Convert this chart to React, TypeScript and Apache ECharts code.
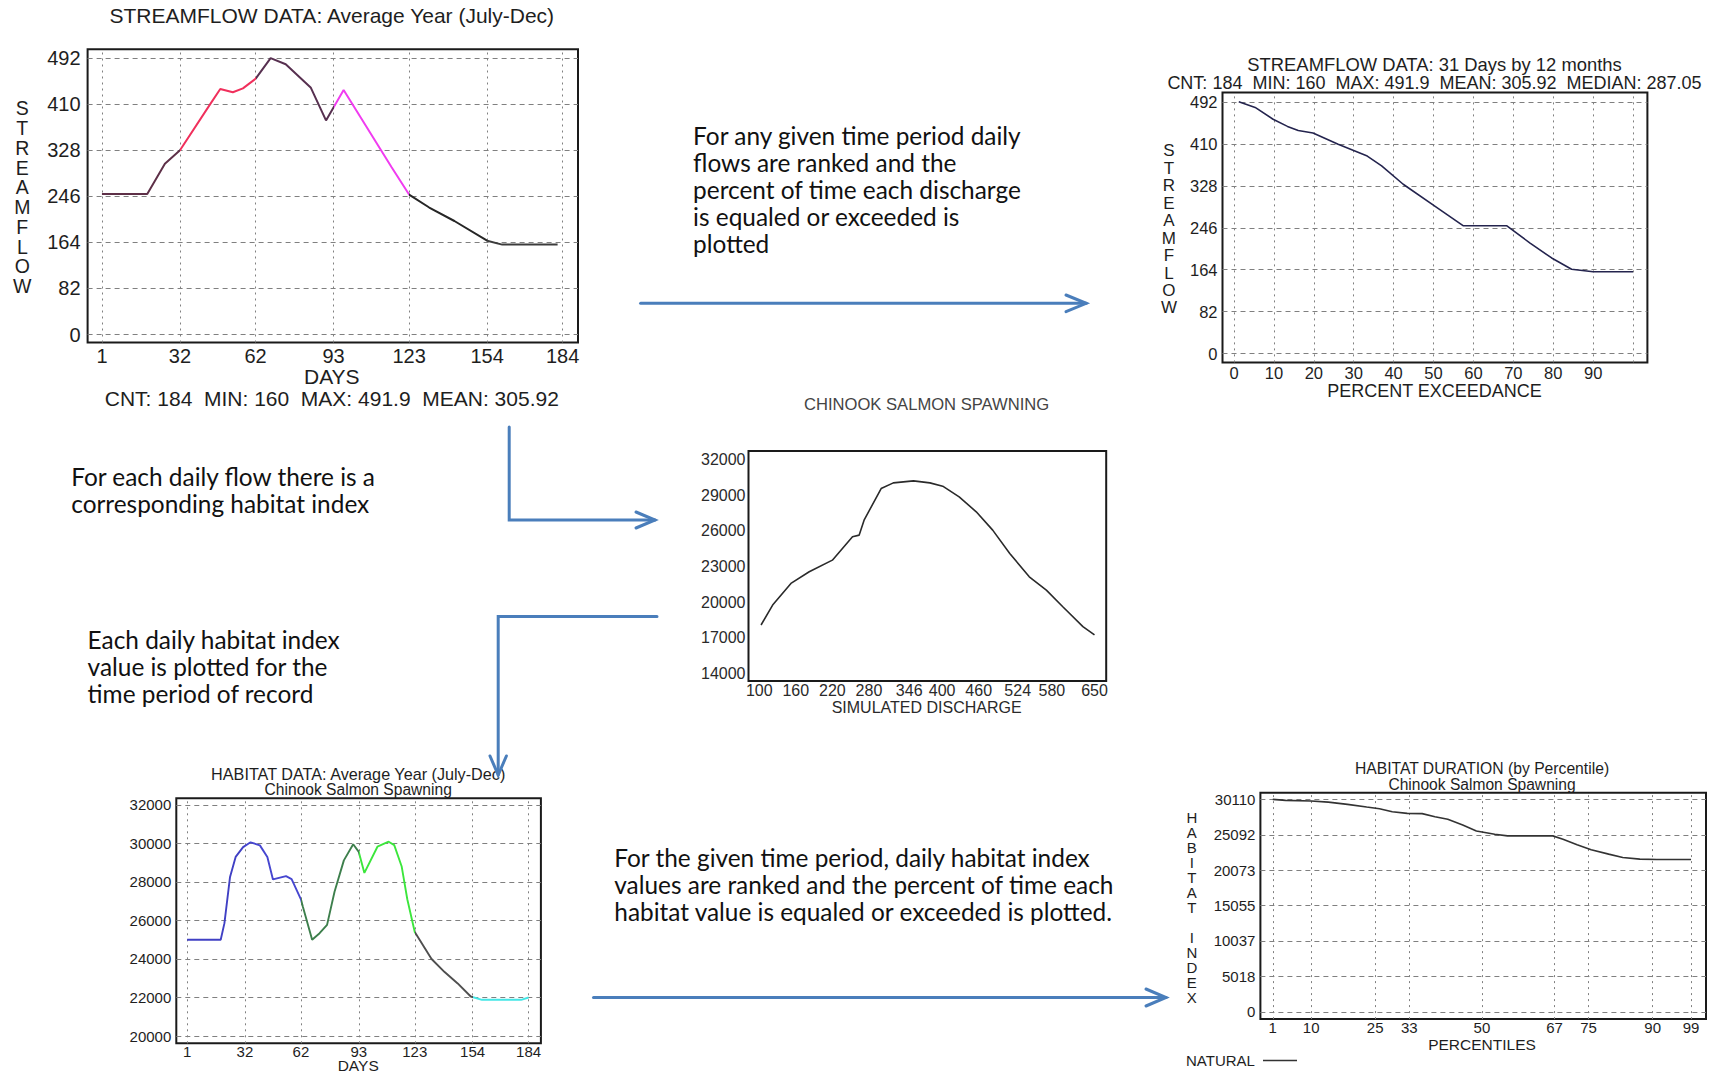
import React, { useEffect, useRef } from "react";
import * as echarts from "echarts";

// ---- Average-year streamflow, July–December (day of period → flow) ----
const flowDays = [1, 19, 26, 32, 44, 48, 53, 57, 62, 68, 74, 84, 90, 97, 116, 123, 131, 141, 154, 160, 182];
const flowValues = [250, 250, 304, 328, 410, 437, 431, 438, 455, 491.9, 481, 439, 381, 435, 298, 249, 226, 202, 167, 160, 160];
const flowYTicks = [0, 82, 164, 246, 328, 410, 492];
const dayTicks = [1, 32, 62, 93, 123, 154, 184];
const monthStarts = [32, 62, 93, 123, 154];
const flowMonthColors = ["#5e3048", "#f0305c", "#573050", "#f03cf0", "#262626", "#3c3c3c"];
const flowStats = "CNT: 184  MIN: 160  MAX: 491.9  MEAN: 305.92";

// ---- Flow exceedance (percent of time equaled or exceeded → flow) ----
const exceedPct = [1.2, 5.3, 9.8, 13.4, 16.1, 19.8, 26.1, 33.4, 37, 42.4, 51.5, 57.4, 68.3, 74.2, 79.6, 84.6, 90, 100];
const exceedFlow = [492, 481, 458, 444, 436, 431, 409, 386, 367, 331, 282, 250, 250, 216, 187, 165, 160, 160];
const exceedXTicks = [0, 10, 20, 30, 40, 50, 60, 70, 80, 90];
const exceedXGrid = [0, 10, 20, 30, 40, 50, 60, 70, 80, 90, 100];
const exceedStats = "CNT: 184  MIN: 160  MAX: 491.9  MEAN: 305.92  MEDIAN: 287.05";

// ---- Habitat index as a function of simulated discharge ----
const dischargeValues = [103, 122, 152, 182, 220, 253, 264, 272, 300, 320, 353, 380, 401, 428, 456, 483, 511, 543, 571, 598, 631, 650];
const habitatAtDischarge = [18070, 19750, 21570, 22550, 23530, 25500, 25640, 26900, 29560, 30040, 30210, 30040, 29760, 28860, 27600, 26060, 24090, 22130, 21010, 19610, 17930, 17230];
const dischargeTicks = [100, 160, 220, 280, 346, 400, 460, 524, 580, 650];
const curveYTicks = [14000, 17000, 20000, 23000, 26000, 29000, 32000];

// ---- Daily habitat index, average year ----
const habitatDays = [1, 19, 21, 24, 27, 31, 35, 40, 44, 47, 54, 57, 62, 63, 68, 72, 76, 80, 85, 90, 93, 96, 103, 109, 112, 116, 119, 123, 132, 139, 146, 153, 159, 180, 184];
const habitatValues = [25000, 25000, 25860, 28260, 29300, 29810, 30060, 29900, 29300, 28130, 28300, 28150, 27100, 26720, 25000, 25340, 25770, 27490, 29120, 29960, 29560, 28470, 29830, 30090, 29910, 28800, 27100, 25400, 24000, 23320, 22730, 22050, 21880, 21880, 22000];
const habitatYTicks = [20000, 22000, 24000, 26000, 28000, 30000, 32000];
const habitatMonthColors = ["#4040c4", "#4646d0", "#3d7f4c", "#3ce63c", "#4f4f4f", "#44e6e6"];

// ---- Habitat duration by percentile ----
const durationPct = [1, 4, 10, 14, 18.5, 23, 26, 29, 32.5, 36, 39, 42, 45.5, 48.7, 53, 56, 66.6, 69, 72.3, 75.6, 79.7, 83, 87, 91, 99];
const durationValues = [30110, 29970, 29880, 29730, 29400, 29030, 28790, 28370, 28130, 28090, 27660, 27290, 26490, 25640, 25170, 24940, 24940, 24460, 23670, 22960, 22350, 21880, 21640, 21590, 21590];
const durationXTicks = [1, 10, 25, 33, 50, 67, 75, 90, 99];
const durationYTicks = [0, 5018, 10037, 15055, 20073, 25092, 30110];

// ---- Explanatory notes ----
const noteExceedance = ["For any given time period daily", "flows are ranked and the", "percent of time each discharge", "is equaled or exceeded is", "plotted"];
const noteHabitatIndex = ["For each daily flow there is a", "corresponding habitat index"];
const noteDailyHabitat = ["Each daily habitat index", "value is plotted for the", "time period of record"];
const noteDuration = ["For the given time period, daily habitat index", "values are ranked and the percent of time each", "habitat value is equaled or exceeded is plotted."];

const W = 1717;
const H = 1075;
const FONT = '"Liberation Sans", Arial, sans-serif';
const NOTE_FONT = 'Lato, "Open Sans", sans-serif';
const INK = "#1e1e1e";
const ARROW = "#4a7ebb";
const GRIDLINE = "#808080";

const pairs = (xs: number[], ys: number[]) => xs.map((x, i) => [x, ys[i]]);

const monthPieces = (colors: string[]) => {
  const pieces: any[] = [{ lt: monthStarts[0], color: colors[0] }];
  for (let i = 0; i < monthStarts.length; i++) {
    const p: any = { gte: monthStarts[i], color: colors[i + 1] };
    if (i + 1 < monthStarts.length) p.lt = monthStarts[i + 1];
    pieces.push(p);
  }
  return pieces;
};

const frame = (left: number, top: number, width: number, height: number) => ({
  left,
  top,
  width,
  height,
  show: true,
  borderColor: "#1a1a1a",
  borderWidth: 2,
  backgroundColor: "transparent",
  containLabel: false,
  outerBoundsMode: "none",
});

const valueAxis = (gridIndex: number, min: number, max: number, ticks: number[], fontSize: number, margin: number, color = INK) => ({
  type: "value",
  gridIndex,
  min,
  max,
  axisLine: { show: false, onZero: false },
  axisTick: { show: false },
  splitLine: { show: false },
  axisLabel: {
    customValues: ticks,
    fontSize,
    margin,
    color,
    fontFamily: FONT,
    hideOverlap: false,
    formatter: (v: number) => String(v),
  },
});

const gridLines = (gridIndex: number, xs: number[], ys: number[]) => ({
  type: "line",
  xAxisIndex: gridIndex,
  yAxisIndex: gridIndex,
  data: [],
  silent: true,
  markLine: {
    silent: true,
    symbol: ["none", "none"],
    label: { show: false },
    emphasis: { disabled: true },
    lineStyle: { color: GRIDLINE, width: 1, type: [5, 4] },
    data: [
      ...xs.map((v) => ({ xAxis: v, lineStyle: { color: GRIDLINE, width: 1, type: [2, 4] } })),
      ...ys.map((v) => ({ yAxis: v, lineStyle: { color: GRIDLINE, width: 1, type: [5, 4] } })),
    ],
  },
});

// color === null leaves the stroke to the series' visualMap
const curve = (gridIndex: number, data: number[][], color: string | null, width: number) => ({
  type: "line",
  xAxisIndex: gridIndex,
  yAxisIndex: gridIndex,
  data,
  showSymbol: false,
  symbol: "none",
  silent: true,
  emphasis: { disabled: true },
  lineStyle: color ? { color, width } : { width },
  itemStyle: color ? { color } : {},
  z: 5,
});

const label = (text: string, x: number, y: number, fontSize: number, extra: any = {}) => ({
  type: "text",
  x,
  y,
  silent: true,
  style: {
    text,
    fill: extra.fill || INK,
    fontSize,
    fontFamily: extra.fontFamily || FONT,
    textAlign: extra.align || "center",
    align: extra.align || "center",
    textVerticalAlign: extra.va || "middle",
    verticalAlign: extra.va || "middle",
    lineHeight: extra.lineHeight,
  },
});

const stacked = (word: string, x: number, y: number, fontSize: number, lineHeight: number) =>
  label(word.split("").join("\n"), x, y, fontSize, { lineHeight });

const note = (lines: string[], x: number, y: number) =>
  label(lines.join("\n"), x, y, 24.4, { align: "left", va: "top", lineHeight: 27, fontFamily: NOTE_FONT, fill: "#111" });

const arrowStyle = { stroke: ARROW, lineWidth: 3, fill: "none", lineCap: "round", lineJoin: "miter" };
const arrow = (pts: number[][], head: number[][]) => [
  { type: "polyline", silent: true, shape: { points: pts }, style: arrowStyle },
  { type: "polyline", silent: true, shape: { points: head }, style: arrowStyle },
];

export default function App() {
  const ref = useRef<HTMLDivElement>(null);

  useEffect(() => {
    document.body.style.margin = "0";
    document.body.style.background = "#ffffff";
    if (!ref.current) return;
    const chart = echarts.init(ref.current, null, { renderer: "svg", width: W, height: H });

    const series: any[] = [
      gridLines(0, dayTicks, flowYTicks),
      curve(0, pairs(flowDays, flowValues), null, 2),
      gridLines(1, exceedXGrid, flowYTicks),
      curve(1, pairs(exceedPct, exceedFlow), "#24244e", 1.6),
      curve(2, pairs(dischargeValues, habitatAtDischarge), "#2a2a2a", 1.6),
      gridLines(3, dayTicks, habitatYTicks),
      curve(3, pairs(habitatDays, habitatValues), null, 1.9),
      gridLines(4, durationXTicks, durationYTicks),
      curve(4, pairs(durationPct, durationValues), "#333333", 1.6),
    ];

    const option: any = {
      animation: false,
      backgroundColor: "#ffffff",
      textStyle: { fontFamily: FONT },
      grid: [
        frame(87.6, 49.2, 490.4, 293.3),
        frame(1222.5, 92.4, 424.9, 270),
        frame(748.5, 451, 357.7, 230),
        frame(176.3, 798.3, 364.6, 245),
        frame(1260.4, 792.8, 445.6, 226.3),
      ],
      xAxis: [
        valueAxis(0, -4.7, 190.1, dayTicks, 20, 3),
        valueAxis(1, -2.88, 103.6, exceedXTicks, 16.5, 2),
        valueAxis(2, 82.4, 669.2, dischargeTicks, 16, 1, "#2a2a2a"),
        valueAxis(3, -4.8, 190.6, dayTicks, 15, 1),
        valueAxis(4, -1.9, 102.5, durationXTicks, 15, 1),
      ],
      yAxis: [
        valueAxis(0, -14.2, 507.7, flowYTicks, 20, 7),
        valueAxis(1, -17, 510.4, flowYTicks, 16.5, 5),
        valueAxis(2, 13352, 32723, curveYTicks, 16, 3, "#2a2a2a"),
        valueAxis(3, 19621, 32344, habitatYTicks, 15, 5),
        valueAxis(4, -1035, 31046, durationYTicks, 15, 5),
      ],
      visualMap: [
        { type: "piecewise", show: false, seriesIndex: 1, dimension: 0, pieces: monthPieces(flowMonthColors) },
        { type: "piecewise", show: false, seriesIndex: 6, dimension: 0, pieces: monthPieces(habitatMonthColors) },
      ],
      series,
      graphic: [
        // streamflow, average year
        label("STREAMFLOW DATA: Average Year (July-Dec)", 331.8, 15.7, 21),
        label("DAYS", 331.8, 376.3, 21),
        label(flowStats, 331.8, 398, 21),
        stacked("STREAMFLOW", 22.3, 197.2, 19.5, 19.8),
        // flow exceedance
        label("STREAMFLOW DATA: 31 Days by 12 months", 1434.5, 64, 18.4),
        label(exceedStats, 1434.5, 83.2, 18),
        label("PERCENT EXCEEDANCE", 1434.5, 391.4, 18),
        stacked("STREAMFLOW", 1168.9, 229.4, 17, 17.45),
        // habitat vs discharge
        label("CHINOOK SALMON SPAWNING", 926.6, 404, 16.6, { fill: "#444444" }),
        label("SIMULATED DISCHARGE", 926.6, 707.8, 16, { fill: "#2a2a2a" }),
        // daily habitat
        label("HABITAT DATA: Average Year (July-Dec)", 358.2, 773.5, 16.2),
        label("Chinook Salmon Spawning", 358.2, 789.5, 15.6),
        label("DAYS", 358.2, 1065.5, 15.5),
        // habitat duration
        label("HABITAT DURATION (by Percentile)", 1482, 768.2, 15.7),
        label("Chinook Salmon Spawning", 1482, 784.2, 15.6),
        label("PERCENTILES", 1482, 1044, 15.5),
        stacked("HABITAT INDEX", 1191.8, 907.7, 15, 15),
        label("NATURAL", 1186, 1060.9, 15, { align: "left" }),
        {
          type: "line",
          silent: true,
          shape: { x1: 1263, y1: 1060.5, x2: 1297, y2: 1060.5 },
          style: { stroke: "#333333", lineWidth: 1.5 },
        },
        // notes
        note(noteExceedance, 693.1, 122.3),
        note(noteHabitatIndex, 71.2, 462.8),
        note(noteDailyHabitat, 87.6, 626),
        note(noteDuration, 614.3, 843.9),
        // flow of the procedure
        ...arrow([[640.6, 303.3], [1086.2, 303.3]], [[1066, 295], [1086.2, 303.3], [1066, 311.6]]),
        ...arrow([[509.2, 427], [509.2, 520], [655, 520]], [[636, 512], [655, 520], [636, 528]]),
        ...arrow([[657, 616.5], [498.2, 616.5], [498.2, 775]], [[490, 756], [498.2, 775], [506.4, 756]]),
        ...arrow([[593.5, 997.5], [1166, 997.5]], [[1146, 989], [1166, 997.5], [1146, 1006]]),
      ],
    };

    chart.setOption(option);
    return () => chart.dispose();
  }, []);

  return <div ref={ref} style={{ width: W, height: H, background: "#ffffff" }} />;
}
